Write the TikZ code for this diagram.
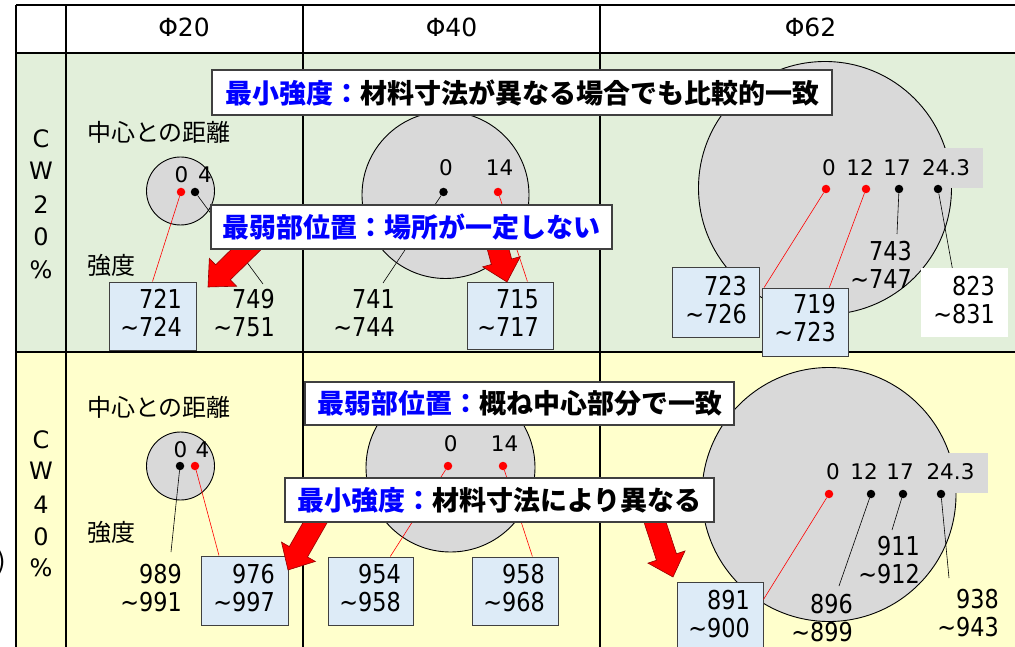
\documentclass[tikz,border=0pt]{standalone}
\usepackage{fontspec}
\setmainfont{DejaVu Sans}
\newfontfamily\numf{DejaVu Sans}[FakeStretch=0.86]
\newfontfamily\jp{Noto Sans CJK JP}
\usetikzlibrary{calc}
\definecolor{cwgreen}{RGB}{226,239,218}
\definecolor{cwyellow}{RGB}{255,255,204}
\definecolor{circgray}{RGB}{217,217,217}
\definecolor{boxblue}{RGB}{221,235,247}
\definecolor{txtblue}{RGB}{0,0,255}
\definecolor{edgegray}{RGB}{64,64,64}
\definecolor{arrowedge}{RGB}{150,0,0}
\tikzset{
 grid/.style={line width=1.2pt, black},
 bigc/.style={circle, draw=black, line width=0.9pt, fill=circgray, inner sep=0pt},
 rdot/.style={circle, fill=red, inner sep=0pt, minimum size=8.5pt},
 bdot/.style={circle, fill=black, inner sep=0pt, minimum size=8.5pt},
 rline/.style={red, line width=0.6pt},
 bline/.style={black, line width=0.6pt},
 vbox/.style={rectangle, draw=edgegray, line width=1pt, fill=boxblue, inner sep=0pt},
 wbox/.style={rectangle, fill=white, inner sep=0pt},
 labbg/.style={rectangle, fill=circgray, inner sep=0pt},
 valtxt/.style={font=\numf\fontsize{26}{28}\selectfont, inner sep=0pt},
 dist/.style={font=\fontsize{21.5}{24}\selectfont, inner sep=0pt},
 hdr/.style={font=\fontsize{25}{28}\selectfont, inner sep=0pt},
 cwl/.style={font=\fontsize{24}{28}\selectfont, inner sep=0pt},
 jplab/.style={font=\jp\fontsize{24}{27}\selectfont, inner sep=0pt, anchor=west},
 callout/.style={rectangle, draw=edgegray, line width=1.2pt, fill=white, inner sep=0pt, font=\jp\bfseries\fontsize{27}{30}\selectfont},
 arr/.style={fill=red, draw=arrowedge, line width=0.6pt, line join=miter},
}
\newcommand\redarrow[2]{%
  \coordinate (#1h) at ($(#2)!21pt!(#1)$);
  \draw[arr] (#2) -- ($(#1h)!19.5pt!90:(#2)$) -- ($(#1h)!10.5pt!90:(#2)$)
    -- ($(#1)!10.5pt!90:(#1h)$) -- ($(#1)!10.5pt!-90:(#1h)$)
    -- ($(#1h)!10.5pt!-90:(#2)$) -- ($(#1h)!19.5pt!-90:(#2)$) -- cycle;}
\newcommand\vtext[5]{%
  \node[valtxt, anchor=base east] (#1a) at (#2, #3+9.5) {#4};
  \node[valtxt, anchor=base east] (#1b) at (#2, #3+37.5) {\textasciitilde#5};}
\begin{document}
\begin{tikzpicture}[x=1pt,y=-1pt]
\useasboundingbox (0,0) rectangle (1015,647);
\fill[white] (0,0) rectangle (1015,647);
% table
\fill[white] (16,5) rectangle (1020,53);
\fill[cwgreen] (16,53) rectangle (1020,352);
\fill[cwyellow] (16,352) rectangle (1020,660);
\draw[grid] (16,5) -- (1020,5) (16,53) -- (1020,53) (16,352) -- (1020,352);
\draw[grid] (16,5) -- (16,660) (66,5) -- (66,660) (303,5) -- (303,660) (600,5) -- (600,660);
% circles
\node[bigc, minimum size=68pt] (c1) at (180.5,191) {};
\node[bigc, minimum size=167pt] (c2) at (445.5,195) {};
\node[bigc, minimum size=253pt] (c3) at (825,188) {};
\node[bigc, minimum size=68pt] (c4) at (180.5,466) {};
\node[bigc, minimum size=169pt] (c5) at (450.5,467.5) {};
\node[bigc, minimum size=254pt] (c6) at (829,494.5) {};
\node[labbg, minimum width=168pt, minimum height=40pt] (g1) at (899,168) {};
\node[labbg, minimum width=173pt, minimum height=40pt] (g2) at (901.5,473) {};
% dots
\node[rdot] (p1) at (181,192) {};
\node[bdot] (p2) at (195,192) {};
\node[bdot] (p3) at (443.5,192) {};
\node[rdot] (p4) at (498,192) {};
\node[rdot] (p5) at (826,189) {};
\node[rdot] (p6) at (866,189) {};
\node[bdot] (p7) at (899,189) {};
\node[bdot] (p8) at (938,189) {};
\node[bdot] (q1) at (180,466) {};
\node[rdot] (q2) at (195,466) {};
\node[rdot] (q3) at (448,466) {};
\node[rdot] (q4) at (503,466) {};
\node[rdot] (q5) at (829,494) {};
\node[bdot] (q6) at (871,494) {};
\node[bdot] (q7) at (903,494) {};
\node[bdot] (q8) at (941,494) {};
% value boxes
\node[vbox, minimum width=87pt, minimum height=68pt] (b721) at (152.5,316) {};
\node[vbox, minimum width=86pt, minimum height=67pt] (b715) at (510,315.5) {};
\node[vbox, minimum width=87pt, minimum height=69pt] (b723) at (715.5,302.5) {};
\node[vbox, minimum width=86pt, minimum height=68pt] (b719) at (805,322) {};
\node[wbox, minimum width=87pt, minimum height=69pt] (b823) at (964.5,302.5) {};
\node[vbox, minimum width=87pt, minimum height=69pt] (b976) at (244.5,590.5) {};
\node[vbox, minimum width=85pt, minimum height=68pt] (b954) at (370.5,591) {};
\node[vbox, minimum width=86pt, minimum height=68pt] (b958) at (515,591) {};
\node[vbox, minimum width=86pt, minimum height=68pt] (b891) at (720,616) {};
% free ends
\coordinate (e749) at (263,284);
\coordinate (e741) at (383,283);
\coordinate (e743) at (897,234);
\coordinate (e989) at (171,552);
\coordinate (e896) at (839,586);
\coordinate (e911) at (892,530);
\coordinate (e938) at (949,578);
% connectors
\draw[rline] (p1) -- (b721.north);
\draw[bline] (p2) -- (e749);
\draw[bline] (p3) -- (e741);
\draw[rline] (p4) -- ($(b715.north west)!0.7!(b715.north east)$);
\draw[rline] (p5) -- ($(b719.north west)!0.03!(b719.north east)$);
\draw[rline] (p6) -- ($(b719.north west)!0.78!(b719.north east)$);
\draw[bline] (p7) -- (e743);
\draw[bline] (p8) -- ($(b823.north west)!0.36!(b823.north east)$);
\draw[bline] (q1) -- (e989);
\draw[rline] (q2) -- ($(b976.north west)!0.21!(b976.north east)$);
\draw[rline] (q3) -- ($(b954.north west)!0.73!(b954.north east)$);
\draw[rline] (q4) -- ($(b958.north west)!0.70!(b958.north east)$);
\draw[rline] (q5) -- ($(b891.north east)!0.26!(b891.south east)$);
\draw[bline] (q6) -- (e896);
\draw[bline] (q7) -- (e911);
\draw[bline] (q8) -- (e938);
% red arrows
\coordinate (s1) at (262,234); \coordinate (t1) at (208,287);
\coordinate (s2) at (494,234); \coordinate (t2) at (507,282);
\coordinate (s3) at (320,514); \coordinate (t3) at (288,570);
\coordinate (s4) at (653,516); \coordinate (t4) at (673,577);
\redarrow{s1}{t1}
\redarrow{s2}{t2}
\redarrow{s3}{t3}
\redarrow{s4}{t4}
% callouts
\node[callout, minimum width=620pt, minimum height=45pt] (ca) at (522,92.5) {\textcolor{txtblue}{最小強度：}材料寸法が異なる場合でも比較的一致};
\node[callout, minimum width=401pt, minimum height=44pt] (cb) at (411.5,227) {\textcolor{txtblue}{最弱部位置：場所が一定しない}};
\node[callout, minimum width=429pt, minimum height=43pt] (cc) at (519.5,403.5) {\textcolor{txtblue}{最弱部位置：}概ね中心部分で一致};
\node[callout, minimum width=429pt, minimum height=44pt] (cd) at (499.5,500) {\textcolor{txtblue}{最小強度：}材料寸法により異なる};
% distance labels
\node[dist] (l1) at (181.5,175) {0};
\node[dist] (l2) at (205,175) {4};
\node[dist] (l3) at (446,168) {0};
\node[dist] (l4) at (499.5,168) {14};
\node[dist] (l5) at (829,167.5) {0};
\node[dist] (l6) at (860,167.5) {12};
\node[dist] (l7) at (897,167.5) {17};
\node[dist] (l8) at (946,167.5) {24.3};
\node[dist] (m1) at (180.5,450) {0};
\node[dist] (m2) at (202.5,450) {4};
\node[dist] (m3) at (450.7,443.5) {0};
\node[dist] (m4) at (504.5,443.5) {14};
\node[dist] (m5) at (833,471.5) {0};
\node[dist] (m6) at (864,471.5) {12};
\node[dist] (m7) at (900,471.5) {17};
\node[dist] (m8) at (950.5,471.5) {24.3};
% values
\vtext{v721}{182}{299}{721}{724}
\vtext{v749}{275}{299}{749}{751}
\vtext{v741}{395}{299}{741}{744}
\vtext{v715}{539}{299}{715}{717}
\vtext{v723}{747}{286}{723}{726}
\vtext{v719}{836}{304}{719}{723}
\vtext{v743}{912}{251}{743}{747}
\vtext{v823}{995}{286}{823}{831}
\vtext{v989}{182}{574}{989}{991}
\vtext{v976}{275}{574}{976}{997}
\vtext{v954}{401}{574}{954}{958}
\vtext{v958}{545}{574}{958}{968}
\vtext{v891}{750}{600}{891}{900}
\vtext{v896}{853}{604}{896}{899}
\vtext{v911}{920}{546}{911}{912}
\vtext{v938}{999}{599}{938}{943}
% japanese labels
\node[jplab] (j1) at (87,132) {中心との距離};
\node[jplab] (j2) at (87,265) {強度};
\node[jplab] (j3) at (87,407) {中心との距離};
\node[jplab] (j4) at (87,532) {強度};
% headers
\node[hdr] (h1) at (184,27) {Φ20};
\node[hdr] (h2) at (451.5,27) {Φ40};
\node[hdr] (h3) at (810.5,27) {Φ62};
% row labels
\node[cwl] (r1) at (41,139) {C};
\node[cwl] (r2) at (41,171) {W};
\node[cwl] (r3) at (41,205) {2};
\node[cwl] (r4) at (41,237) {0};
\node[cwl] (r5) at (41,270) {\%};
\node[cwl] (r6) at (41,440) {C};
\node[cwl] (r7) at (41,471) {W};
\node[cwl] (r8) at (41,505) {4};
\node[cwl] (r9) at (41,537) {0};
\node[cwl] (r10) at (41,568) {\%};
\node[valtxt, anchor=east] (paren) at (5.5,562) {)};
\end{tikzpicture}
\end{document}
